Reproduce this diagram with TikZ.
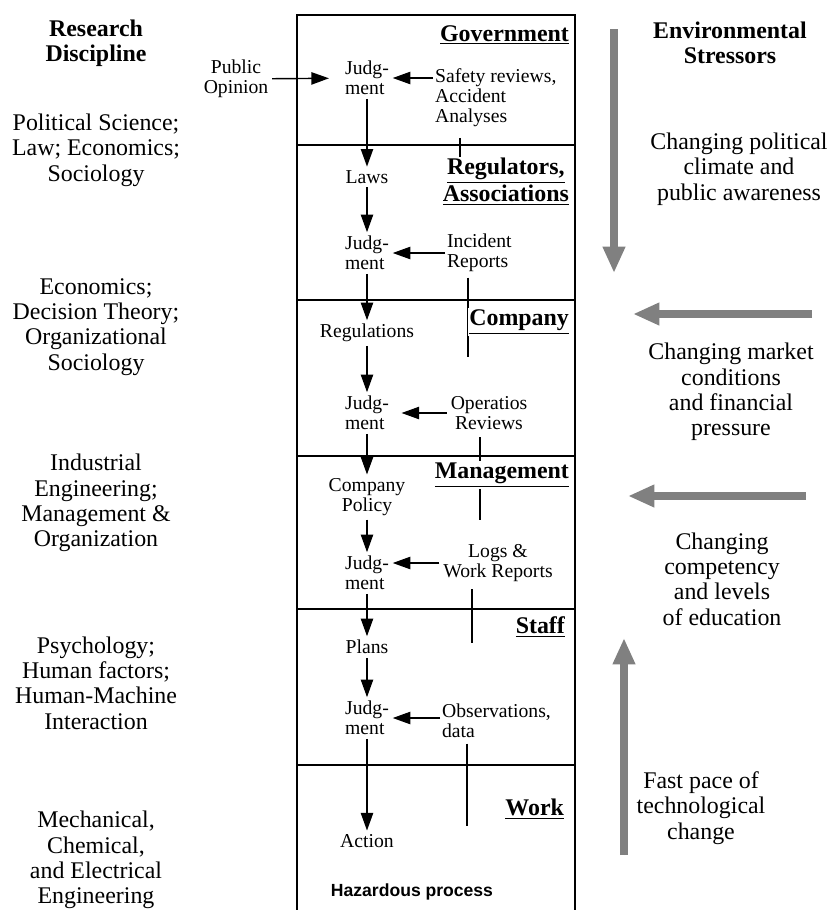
\documentclass[tikz,border=0pt]{standalone}
\usepackage{fontspec}
\setmainfont{Liberation Serif}
\newfontfamily\hazfont{Liberation Sans}
\usepackage{tikz}
\usetikzlibrary{arrows.meta}

\definecolor{stressgray}{RGB}{128,128,128}
\tikzstyle{discipline} = [align=center, inner sep=0pt, font=\fontsize{13.6}{14.4}\selectfont]
\tikzstyle{colhead} = [align=center, inner sep=0pt, font=\fontsize{13.6}{14.4}\selectfont\bfseries]
\tikzstyle{level} = [anchor=east, align=center, fill=white, inner sep=1pt, font=\fontsize{13.6}{14.4}\selectfont\bfseries]
\tikzstyle{flow} = [align=center, inner sep=2pt, font=\fontsize{11.2}{11.4}\selectfont]
\tikzstyle{judgment} = [align=left, inner sep=2pt, font=\fontsize{11.2}{11.4}\selectfont]
\tikzstyle{report} = [align=left, anchor=west, inner sep=1pt, font=\fontsize{11.2}{11.4}\selectfont]
\tikzstyle{arrow} = [line width=0.8pt, -{Triangle[length=10pt, width=7pt]}]
\tikzstyle{feedline} = [line width=0.7pt, shorten <=2pt]
\tikzstyle{divider} = [line width=0.75pt]
\tikzstyle{stressarrow} = [line width=4pt, draw=stressgray, fill=stressgray, -{Triangle[length=15pt, width=12pt]}]

\begin{document}
\begin{tikzpicture}[x=0.02cm, y=-0.02cm]
\useasboundingbox (0,0) rectangle (826,910);

\draw[line width=1.3pt] (297,915) -- (297,15) -- (575,15) -- (575,915);
\draw[divider] (297,145) -- (575,145);
\draw[divider] (297,300) -- (575,300);
\draw[divider] (297,456) -- (575,456);
\draw[divider] (297,609) -- (575,609);
\draw[divider] (297,765) -- (575,765);

\node (research) [colhead] at (96,43) {Research\\Discipline};
\node (polsci) [discipline] at (96,150) {Political Science;\\Law; Economics;\\Sociology};
\node (econ) [discipline] at (96,327) {Economics;\\Decision Theory;\\Organizational\\Sociology};
\node (indeng) [discipline] at (96,503) {Industrial\\Engineering;\\Management \&\\Organization};
\node (psych) [discipline] at (96,683) {Psychology;\\Human factors;\\Human-Machine\\Interaction};
\node (mecheng) [discipline] at (96,860) {Mechanical,\\Chemical,\\and Electrical\\Engineering};

\node (environ) [colhead] at (730,43) {Environmental\\Stressors};
\node (political) [discipline] at (739,169) {Changing political\\climate and\\public awareness};
\node (market) [discipline] at (731,392) {Changing market\\conditions\\and financial\\pressure};
\node (competency) [discipline] at (722,579) {Changing\\competency\\and levels\\of education};
\node (techpace) [discipline] at (701,808) {Fast pace of\\technological\\change};

\coordinate (polstart) at (614,29);
\coordinate (polend) at (614,273);
\coordinate (mktstart) at (812,314);
\coordinate (mktend) at (633,314);
\coordinate (edustart) at (806,496);
\coordinate (eduend) at (628,496);
\coordinate (techstart) at (624,855);
\coordinate (techend) at (624,638);
\draw[stressarrow] (polstart) -- (polend);
\draw[stressarrow] (mktstart) -- (mktend);
\draw[stressarrow] (edustart) -- (eduend);
\draw[stressarrow] (techstart) -- (techend);

\node (public) [flow] at (236,79) {Public\\Opinion};
\node (judg1) [judgment] at (367,78) {Judg-\\ment};
\node (safety) [report] at (433,98) {Safety reviews,\\Accident\\Analyses};
\node (laws) [flow] at (367,177) {Laws};
\node (judg2) [judgment] at (367,253) {Judg-\\ment};
\node (incident) [report] at (445,253) {Incident\\Reports};
\node (regs) [flow] at (367,333) {Regulations};
\node (judg3) [judgment] at (367,413) {Judg-\\ment};
\node (opreview) [flow] at (489,413) {Operatios\\Reviews};
\node (policy) [flow] at (367,497) {Company\\Policy};
\node (judg4) [judgment] at (367,573) {Judg-\\ment};
\node (logs) [flow] at (498,563) {Logs \&\\Work Reports};
\node (plans) [flow] at (367,647) {Plans};
\node (judg5) [judgment] at (367,718) {Judg-\\ment};
\node (observ) [report] at (440,721) {Observations,\\data};
\node (action) [flow] at (367,841) {Action};
\node (hazard) [font=\hazfont\fontsize{10}{12}\selectfont\bfseries] at (412,892) {Hazardous process};

\draw[arrow, shorten >=7pt] (public) -- (judg1);
\draw[arrow] (judg1 -| safety.west) -- (judg1);
\draw[arrow] (judg1) -- (laws);
\draw[arrow] (laws) -- (judg2);
\draw[arrow] (judg2 -| incident.west) -- (judg2);
\draw[arrow] (judg2) -- (regs);
\draw[arrow] (regs) -- (judg3);
\draw[arrow, shorten >=5pt] (opreview) -- (judg3);
\draw[arrow] (judg3) -- (policy);
\draw[arrow] (policy) -- (judg4);
\draw[arrow] (logs.west) -- (logs.west -| judg4.east);
\draw[arrow] (judg4) -- (plans);
\draw[arrow] (plans) -- (judg5);
\draw[arrow] (judg5 -| observ.west) -- (judg5);
\draw[arrow] (judg5) -- (action);

\coordinate (govfb) at (460,157);
\coordinate (regfb) at (468,357);
\coordinate (compfb) at (480,520);
\coordinate (mgmtfb) at (472,643);
\coordinate (stafffb) at (467,826);
\draw[feedline, shorten <=5pt] (govfb |- safety.south) -- (govfb);
\draw[feedline] (regfb |- incident.south) -- (regfb);
\draw[feedline] (compfb |- opreview.south) -- (compfb);
\draw[feedline] (mgmtfb |- logs.south) -- (mgmtfb);
\draw[feedline] (stafffb |- observ.south) -- (stafffb);

\node (gov) [level] at (571,35) {\underline{Government}};
\node (regulators) [level] at (571,182) {\underline{Regulators,}\\\underline{Associations}};
\node (company) [level] at (571,322) {\underline{Company}};
\node (management) [level] at (571,475) {\underline{Management}};
\node (staff) [level] at (567,627) {\underline{Staff}};
\node (work) [level] at (566,809) {\underline{Work}};

\end{tikzpicture}
\end{document}
